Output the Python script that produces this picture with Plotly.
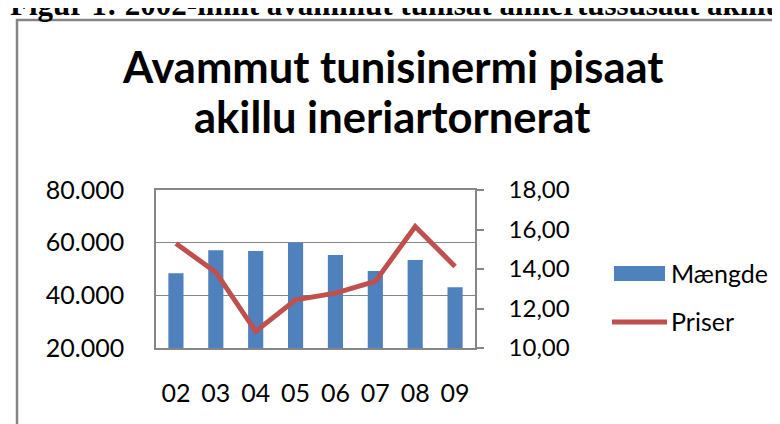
import plotly.graph_objects

# Chart values
years = ["02", "03", "04", "05", "06", "07", "08", "09"]
maengde = [48400, 57100, 56800, 60000, 55300, 49200, 53400, 43100]
priser = [15.29, 13.84, 10.84, 12.44, 12.78, 13.37, 16.15, 14.13]

title_lines = ["Avammut tunisinermi pisaat", "akillu ineriartornerat"]
caption = "Figur 1: 2002-imiit avammut tunisat annertussusaat akiilu ineriartornerat"
legend_names = ["Mængde", "Priser"]

BLUE = "#4F81BD"
RED = "#C0504D"
GRAY = "#868686"
FONT = "Lato"

# Page and plot area in pixels
W, H = 780, 424
PL, PR, PT, PB = 148, 467, 182, 340


def px(x):
    return (x - PL) / (PR - PL)


def py(y):
    return (PB - y) / (PB - PT)


figure = plotly.graph_objects.Figure()

figure.add_trace(plotly.graph_objects.Bar(x=years, y=maengde, name=legend_names[0],
                                          marker=dict(color=BLUE, line=dict(width=0))))

figure.add_trace(plotly.graph_objects.Scatter(x=years, y=priser, name=legend_names[1], yaxis="y2",
                                              mode="lines", line=dict(color=RED, width=5)))

figure.update_layout(width=W, height=H,
                     margin=dict(l=PL, r=W - PR, t=PT, b=H - PB, autoexpand=False),
                     paper_bgcolor="white", plot_bgcolor="white",
                     separators=",.", showlegend=False, bargap=0.62,
                     font=dict(family=FONT, color="black"))

figure.update_xaxes(type="category", showline=True, linecolor=GRAY, linewidth=1.5, mirror=True,
                    showgrid=False, ticks="", ticklabelstandoff=22,
                    tickfont=dict(family=FONT, size=25, color="black"))

figure.update_layout(yaxis=dict(range=[20000, 80000], dtick=20000, tickformat=",.0f",
                                showline=True, linecolor=GRAY, linewidth=1.5, mirror=True,
                                showgrid=True, gridcolor=GRAY, gridwidth=1, zeroline=False,
                                ticks="", ticklabelstandoff=25,
                                tickfont=dict(family=FONT, size=25, color="black")),
                     yaxis2=dict(range=[10, 18], dtick=2, tickformat=".2f",
                                 overlaying="y", side="right",
                                 showline=True, linecolor=GRAY, linewidth=1.5,
                                 showgrid=False, zeroline=False,
                                 ticks="outside", ticklen=7, tickcolor=GRAY, tickwidth=1.5,
                                 ticklabelstandoff=20,
                                 tickfont=dict(family=FONT, size=24, color="black")))

# Outer frame of the chart object, cut by the page on right and bottom
figure.add_shape(type="rect", xref="paper", yref="paper",
                 x0=px(9), x1=px(W + 20), y0=py(12), y1=py(H + 20),
                 line=dict(color=GRAY, width=2.5), layer="below")

# Caption above the chart, its top and end cut off by the page
figure.add_annotation(text=f"<b>{caption}</b>", xref="paper", yref="paper",
                      x=px(0), y=py(-4), xanchor="left", yanchor="middle", showarrow=False,
                      font=dict(family="Liberation Serif", size=31, color="black"))

# Two line title
for line, ymid in zip(title_lines, [58, 108]):
    figure.add_annotation(text=f"<b>{line}</b>", xref="paper", yref="paper",
                          x=px(384), y=py(ymid), xanchor="center", yanchor="middle", showarrow=False,
                          font=dict(family=FONT, size=43.5, color="black"))

# Legend drawn by hand so the keys keep the wide Excel look
figure.add_shape(type="rect", xref="paper", yref="paper",
                 x0=px(606), x1=px(657), y0=py(273), y1=py(258),
                 fillcolor=BLUE, line=dict(width=0))
figure.add_shape(type="line", xref="paper", yref="paper",
                 x0=px(604), x1=px(659), y0=py(314), y1=py(314),
                 line=dict(color=RED, width=5))
for name, ymid in zip(legend_names, [265, 313]):
    figure.add_annotation(text=name, xref="paper", yref="paper",
                          x=px(661), y=py(ymid), xanchor="left", yanchor="middle", showarrow=False,
                          font=dict(family=FONT, size=25, color="black"))

figure.write_html("out.html")
